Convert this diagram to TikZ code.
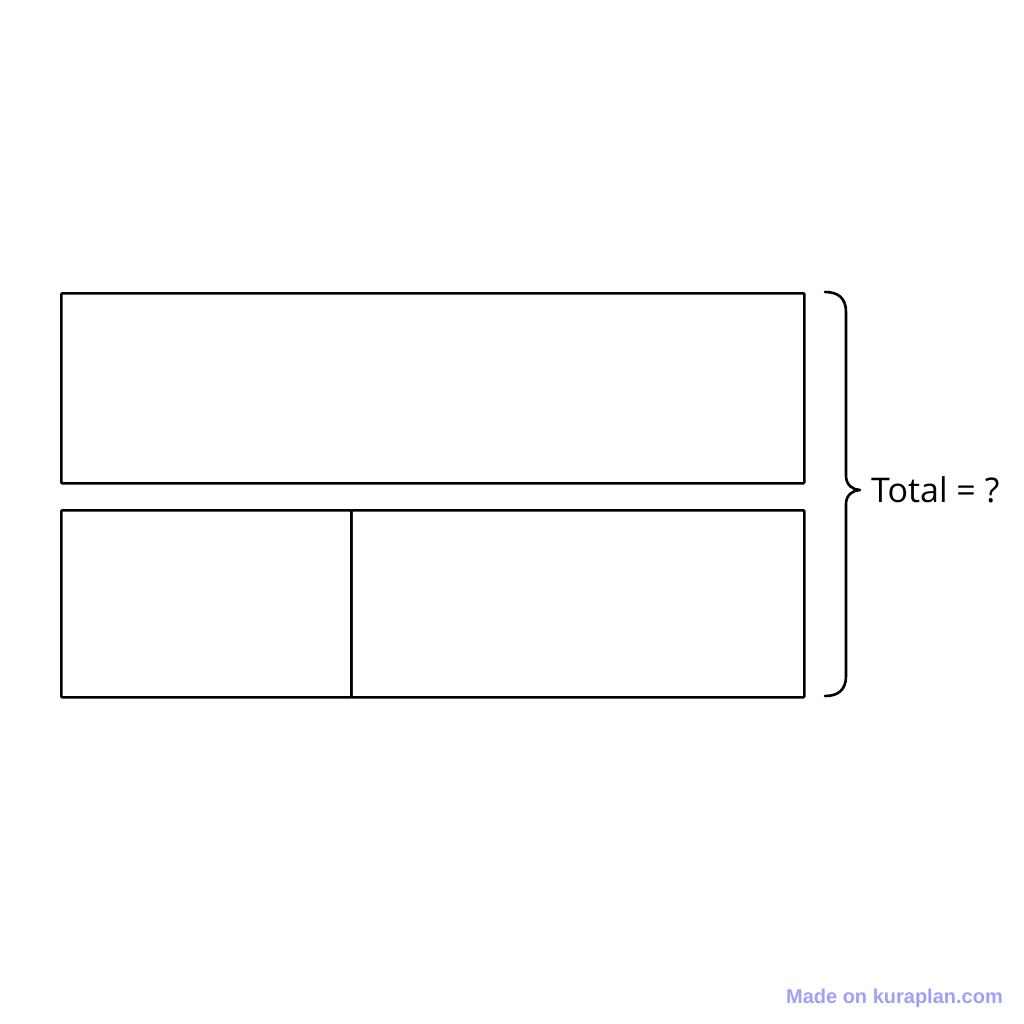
\documentclass[tikz,border=0pt]{standalone}
\usepackage{fontspec}
\setmainfont{Open Sans}
\newfontfamily\wmfont{Liberation Sans}
\definecolor{wmblue}{RGB}{160,160,248}
\begin{document}
\begin{tikzpicture}[x=1pt,y=-1pt,
  bar/.style={draw=black,line width=2.6pt,rounded corners=1pt,inner sep=0pt,anchor=north west},
  brace/.style={draw=black,line width=2.6pt,line cap=round,line join=round}]
\fill[white] (0,0) rectangle (1024,1024);
\useasboundingbox (0,0) rectangle (1024,1024);
\node[bar,minimum width=743pt,minimum height=190pt] (top) at (60,292) {};
\node[bar,minimum width=290pt,minimum height=187pt] (bl) at (60,509) {};
\node[bar,minimum width=453pt,minimum height=187pt] (br) at (350,509) {};
\coordinate (bt) at (825,292);
\coordinate (bb) at (825,696);
\coordinate (tip) at (860,490);
\draw[brace] (bt) .. controls (838,292) and (846,298) .. (846,312)
  -- (846,476) .. controls (846,485) and (853,490) .. (tip)
  .. controls (853,490) and (846,495) .. (846,504)
  -- (846,676) .. controls (846,690) and (838,696) .. (bb);
\node[anchor=west,inner sep=0pt,font=\fontsize{34}{38}\selectfont] (total) at (871,490) {Total = ?};
\node[anchor=east,inner sep=0pt,text=wmblue,font=\wmfont\bfseries\fontsize{20}{22}\selectfont] (wm) at (1003,998) {Made on kuraplan.com};
\end{tikzpicture}
\end{document}
